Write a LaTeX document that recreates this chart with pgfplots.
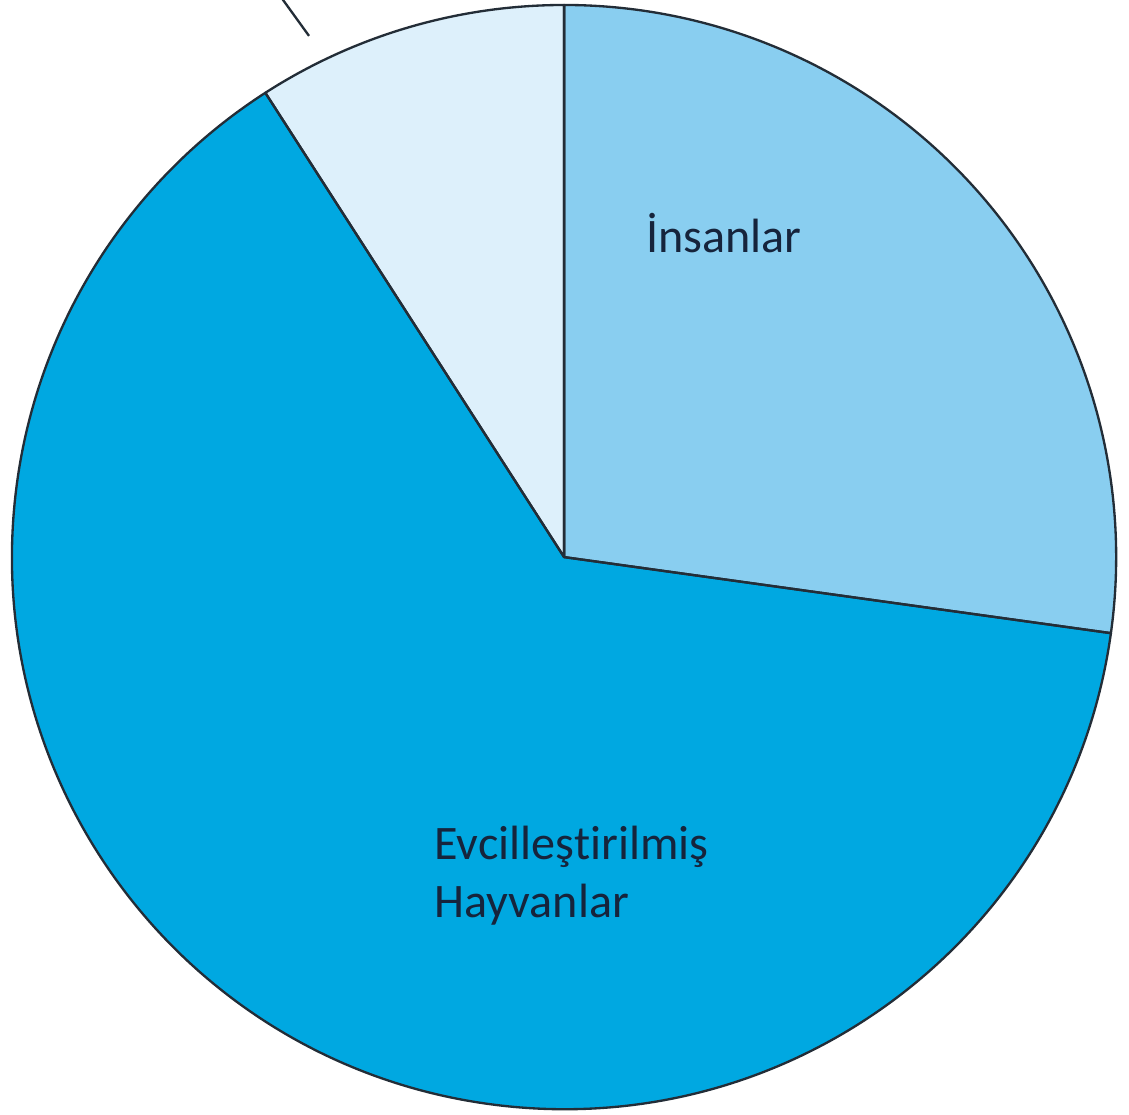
\documentclass[border=0pt]{standalone}
\usepackage{pgfplots}
\pgfplotsset{compat=1.18}
\usepackage{fontspec}
\setmainfont[Ligatures={NoCommon,NoRare,NoContextual}]{Carlito}
\definecolor{cHum}{RGB}{137,206,240}
\definecolor{cDom}{RGB}{0,168,225}
\definecolor{cWild}{RGB}{221,240,251}
\definecolor{cEdge}{RGB}{35,45,55}
\definecolor{cTxt}{RGB}{22,36,60}
% shares (percent), clockwise from 12 o'clock
\def\vHum{27.2}   % İnsanlar
\def\vDom{63.7}   % Evcilleştirilmiş Hayvanlar
\def\vWild{9.1}   % (label outside the picture)
\pgfmathsetmacro{\aA}{90}
\pgfmathsetmacro{\aB}{90-3.6*\vHum}
\pgfmathsetmacro{\aC}{\aB-3.6*\vDom}
\pgfmathsetmacro{\aD}{\aC-3.6*\vWild}
\begin{document}
\begin{tikzpicture}
\begin{axis}[
  x=5cm, y=5cm,
  xmin=-1.0217, xmax=1.0236,
  ymin=-1.009, ymax=1.009,
  hide axis, clip=true,
]
\fill[cHum] (axis cs:0,0) -- (axis cs:{cos(\aA)},{sin(\aA)}) arc[start angle=\aA, end angle=\aB, radius=5cm] -- cycle;
\fill[cDom] (axis cs:0,0) -- (axis cs:{cos(\aB)},{sin(\aB)}) arc[start angle=\aB, end angle=\aC, radius=5cm] -- cycle;
\fill[cWild] (axis cs:0,0) -- (axis cs:{cos(\aC)},{sin(\aC)}) arc[start angle=\aC, end angle=\aD, radius=5cm] -- cycle;
\draw[cEdge, line width=0.6pt, line join=round] (axis cs:0,0) -- (axis cs:{cos(\aA)},{sin(\aA)}) arc[start angle=\aA, end angle=\aB, radius=5cm] -- cycle;
\draw[cEdge, line width=0.6pt, line join=round] (axis cs:0,0) -- (axis cs:{cos(\aB)},{sin(\aB)}) arc[start angle=\aB, end angle=\aC, radius=5cm] -- cycle;
\draw[cEdge, line width=0.6pt, line join=round] (axis cs:0,0) -- (axis cs:{cos(\aC)},{sin(\aC)}) arc[start angle=\aC, end angle=\aD, radius=5cm] -- cycle;
% leader line toward the (cropped) label of the small slice
\addplot[cEdge, line width=0.6pt] coordinates {(-0.462,0.944) (-0.535,1.045)};
\node[anchor=base west, text=cTxt, font=\fontsize{12.4}{15}\selectfont, inner sep=0pt] at (axis cs:0.147,0.551) {İnsanlar};
\node[anchor=base west, text=cTxt, font=\fontsize{12.4}{15}\selectfont, inner sep=0pt] at (axis cs:-0.236,-0.547) {Evcilleş\kern0pt t\kern0pt irilmiş};
\node[anchor=base west, text=cTxt, font=\fontsize{12.4}{15}\selectfont, inner sep=0pt] at (axis cs:-0.236,-0.652) {Hayvanlar};
\end{axis}
\end{tikzpicture}
\end{document}
